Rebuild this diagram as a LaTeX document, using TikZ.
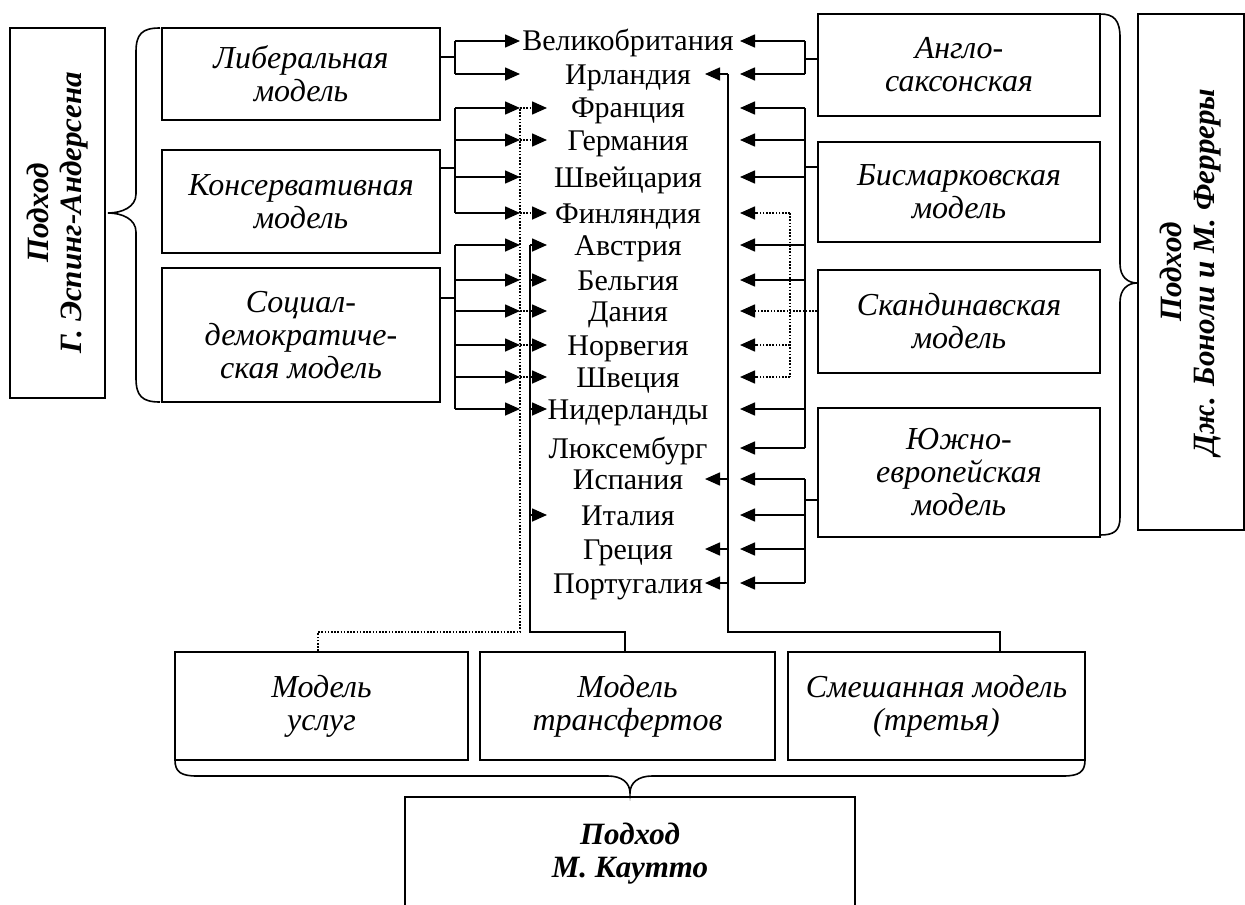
\documentclass[tikz,border=0pt]{standalone}
\usepackage{fontspec}
\setmainfont{Liberation Serif}
\usetikzlibrary{arrows.meta}
\tikzset{
  model/.style={draw,line width=1pt,align=center,font=\fontsize{16}{16.5}\selectfont\itshape,inner sep=0pt},
  approach/.style={draw,line width=1pt,align=center,font=\fontsize{15.5}{16.5}\selectfont\bfseries\itshape,inner sep=0pt},
  country/.style={inner sep=0pt,anchor=base},
  ln/.style={line width=0.8pt},
  arr/.style={ln,-{Triangle[length=7.5pt,width=6.5pt]}},
  dots/.style={ln,dash pattern=on 0.8pt off 0.8pt},
}
\begin{document}
\begin{tikzpicture}[x=0.5pt,y=-0.5pt,font=\fontsize{15}{16.5}\selectfont]
\useasboundingbox (0,0) rectangle (1245,904);

% approaches
\node[approach,rotate=90,minimum width=185pt,minimum height=47.5pt] (esp) at (57.5,213) {Подход\\Г. Эспинг-Андерсена};
\node[approach,rotate=90,minimum width=258pt,minimum height=53pt] (bon) at (1191,272) {Подход\\Дж. Боноли и М. Ферреры};
\node[approach,minimum width=225pt,minimum height=57pt] (kau) at (630,854) {Подход\\М. Каутто};

% models
\node[model,minimum width=139pt,minimum height=46pt] (lib) at (301,74) {Либеральная\\модель};
\node[model,minimum width=139pt,minimum height=51.5pt] (con) at (301,201.5) {Консервативная\\модель};
\node[model,minimum width=139pt,minimum height=67pt] (soc) at (301,335) {Социал-\\демократиче-\\ская модель};
\node[model,minimum width=141pt,minimum height=51pt] (ang) at (959,65) {Англо-\\саксонская};
\node[model,minimum width=141pt,minimum height=50pt] (bis) at (959,192) {Бисмарковская\\модель};
\node[model,minimum width=141pt,minimum height=51.5pt] (scn) at (959,321.5) {Скандинавская\\модель};
\node[model,minimum width=141pt,minimum height=64.5pt] (sou) at (959,472.5) {Южно-\\европейская\\модель};
\node[model,minimum width=146.5pt,minimum height=54pt] (usl) at (321.5,706) {Модель\\услуг};
\node[model,minimum width=147.5pt,minimum height=54pt] (trf) at (627.5,706) {Модель\\трансфертов};
\node[model,minimum width=148.5pt,minimum height=54pt] (mix) at (936.5,706) {Смешанная модель\\(третья)};

% countries
\foreach \i/\y/\t in {1/41/Великобритания,2/74/Ирландия,3/108/Франция,4/140/Германия,
  5/177/Швейцария,6/213/Финляндия,7/245/Австрия,8/280/Бельгия,9/311/Дания,
  10/345/Норвегия,11/377/Швеция,12/409/Нидерланды,13/448/Люксембург,
  14/479/Испания,15/515/Италия,16/549/Греция,17/583/Португалия}
  \node[country] (c\i) at (628,\y+10) {\t};

% buses and arrow ends
\coordinate (tl) at (520,0);
\coordinate (tt) at (547,0);
\coordinate (bt) at (530,0);
\coordinate (bm) at (728,0);
\coordinate (tm) at (705,0);
\coordinate (tr) at (740,0);
\coordinate (bs) at (790,0);
\foreach \i/\y in {1/41,2/74,3/108,4/140,5/177,6/213,7/245,8/280,9/311,
  10/345,11/377,12/409,13/448,14/479,15/515,16/549,17/583}
  \coordinate (r\i) at (0,\y);
\coordinate (jlib) at (455,57);
\coordinate (jcon) at (455,168);
\coordinate (jsoc) at (455,298);
\coordinate (jang) at (805,59);
\coordinate (jbis) at (805,167);
\coordinate (jsou) at (805,500);
\coordinate (jusl) at (318,632);
\coordinate (jtrf) at (625,632);
\coordinate (jmix) at (1000,632);

% Esping-Andersen
\draw[ln] (lib.east |- jlib) -- (jlib) (jlib |- r1) -- (jlib |- r2);
\foreach \i in {1,2} \draw[arr] (jlib |- r\i) -- (tl |- r\i);
\draw[ln] (con.east |- jcon) -- (jcon) (jcon |- r3) -- (jcon |- r6);
\foreach \i in {3,...,6} \draw[arr] (jcon |- r\i) -- (tl |- r\i);
\draw[ln] (soc.east |- jsoc) -- (jsoc) (jsoc |- r7) -- (jsoc |- r12);
\foreach \i in {7,...,12} \draw[arr] (jsoc |- r\i) -- (tl |- r\i);

% Kautto
\draw[dots] (usl.north -| jusl) -- (jusl) -- (tl |- jusl) -- (tl |- r3);
\foreach \i in {3,4,6} \draw[dots,arr] (tl |- r\i) -- (tt |- r\i);
\foreach \i in {9,10,11} \draw[dots] (tl |- r\i) -- (bt |- r\i);
\draw[ln] (trf.north -| jtrf) -- (jtrf) -- (bt |- jtrf) -- (bt |- r7);
\foreach \i in {7,...,12,15} \draw[arr] (bt |- r\i) -- (tt |- r\i);
\draw[ln] (mix.north -| jmix) -- (jmix) -- (bm |- jmix) -- (bm |- r2);
\foreach \i in {2,14,16,17} \draw[arr] (bm |- r\i) -- (tm |- r\i);

% Bonoli, Ferrera
\draw[ln] (ang.west |- jang) -- (jang) (jang |- r1) -- (jang |- r2);
\foreach \i in {1,2} \draw[arr] (jang |- r\i) -- (tr |- r\i);
\draw[ln] (bis.west |- jbis) -- (jbis) (jbis |- r3) -- (jbis |- r13);
\foreach \i in {3,4,5,7,8,12,13} \draw[arr] (jbis |- r\i) -- (tr |- r\i);
\draw[dots,arr] (scn.west |- r9) -- (tr |- r9);
\draw[dots] (bs |- r6) -- (bs |- r11);
\foreach \i in {6,10,11} \draw[dots,arr] (bs |- r\i) -- (tr |- r\i);
\draw[ln] (sou.west |- jsou) -- (jsou) (jsou |- r14) -- (jsou |- r17);
\foreach \i in {14,...,17} \draw[arr] (jsou |- r\i) -- (tr |- r\i);

% braces
\draw[ln] (160,28) .. controls (142,28) and (136,34) .. (136,52) -- (136,194)
  .. controls (136,207) and (122,213) .. (108,213)
  .. controls (122,213) and (136,219) .. (136,232) -- (136,378)
  .. controls (136,396) and (142,402) .. (160,402);
\draw[ln] (1100,14) .. controls (1114,14) and (1120,20) .. (1120,38) -- (1120,264)
  .. controls (1120,277) and (1128,283) .. (1137,283)
  .. controls (1128,283) and (1120,289) .. (1120,302) -- (1120,517)
  .. controls (1120,531) and (1114,535) .. (1100,535);
\draw[ln] (175,760) .. controls (175,772) and (181,776) .. (197,776) -- (608,776)
  .. controls (622,776) and (630,783) .. (630,793)
  .. controls (630,783) and (638,776) .. (652,776) -- (1063,776)
  .. controls (1079,776) and (1085,772) .. (1085,760);
\end{tikzpicture}
\end{document}
